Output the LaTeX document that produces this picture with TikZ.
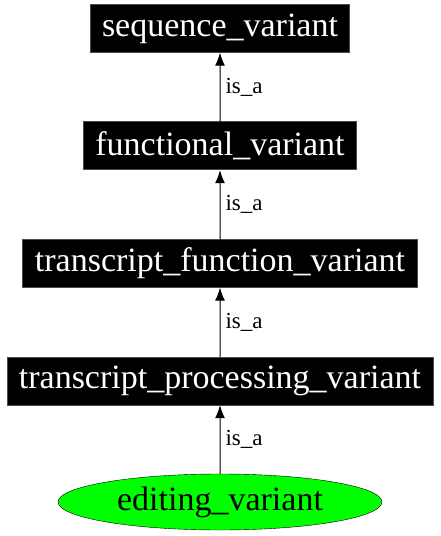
\documentclass[tikz,border=0pt]{standalone}
\usepackage{fontspec}
\setmainfont{Liberation Serif}
\usetikzlibrary{trees,shapes.geometric,arrows.meta}

\begin{document}
\begin{tikzpicture}[x=1pt,y=1pt,grow=up,
level 1/.style={level distance=121pt},
level 2/.style={level distance=117.5pt},
edge from parent/.style={draw,line width=1pt,-{Latex[length=13pt,width=10pt]}}]
\tikzstyle{term}=[rectangle,fill=black,draw=black!70,text=white,inner xsep=12pt,minimum height=48pt,font=\fontsize{34}{40}\selectfont]
\tikzstyle{leaf}=[ellipse,fill=green,draw=black,minimum width=324pt,minimum height=56pt,inner sep=0pt,font=\fontsize{34}{40}\selectfont]
\tikzstyle{rel}=[right,inner sep=5pt,font=\fontsize{23}{27}\selectfont]
\useasboundingbox (0,0) rectangle (440,536);
    \node[leaf] (ev) at (220,34) {editing\_variant}
        child {
        node[term] (tpv) {transcript\_processing\_variant}
        child {
            node[term] (tfv) {transcript\_function\_variant}
            child {
                node[term] (fv) {functional\_variant}
                child { node[term] (sv) {sequence\_variant} edge from parent node[rel] (isa4) {is\_a} }
                edge from parent node[rel] (isa3) {is\_a}
            }
            edge from parent node[rel] (isa2) {is\_a}
        }
        edge from parent node[rel] (isa1) {is\_a}
    };

\end{tikzpicture}
\end{document}
